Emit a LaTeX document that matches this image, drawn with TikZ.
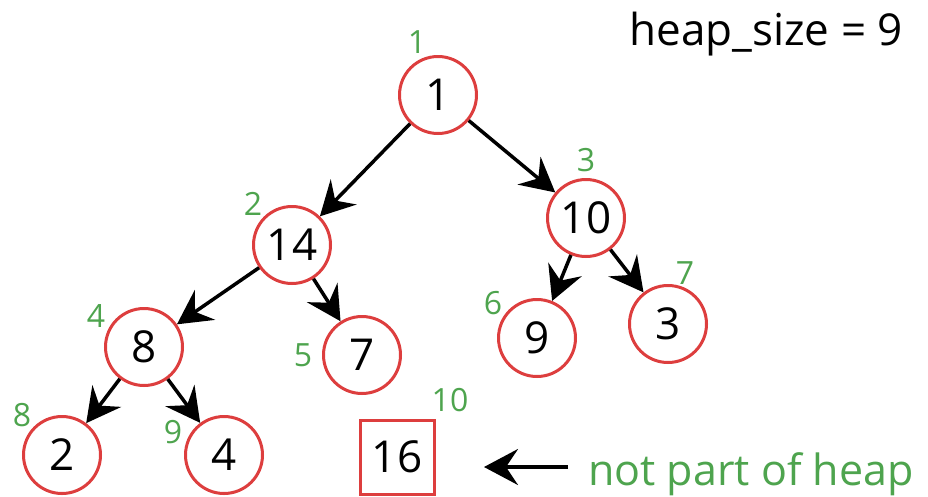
\documentclass[tikz,border=0pt]{standalone}
\usepackage{fontspec}
\setmainfont{Open Sans}
\usetikzlibrary{arrows.meta}
\definecolor{heapred}{RGB}{221,62,62}
\definecolor{idxgreen}{RGB}{78,164,78}

\begin{document}
\begin{tikzpicture}[x=1pt,y=1pt]
	 	\tikzstyle{every node}+=[inner sep=0pt]
	 	\tikzstyle{key}=[circle,draw=heapred,line width=3pt,minimum size=77pt,font=\fontsize{44}{44}\selectfont]
	 	\tikzstyle{extra}=[rectangle,draw=heapred,line width=3pt,minimum size=74pt,font=\fontsize{44}{44}\selectfont]
	 	\tikzstyle{idx}=[text=idxgreen,font=\fontsize{32}{32}\selectfont]
	 	\tikzstyle{link}=[black,line width=3.5pt,-{Stealth[length=34pt,width=36pt,inset=12pt]}]
	 	\useasboundingbox (0,0) rectangle (928,-496);
	 	\node [key] (k1) at (438,-95) {1};
	 	\node [key] (k2) at (292,-245) {14};
	 	\node [key] (k3) at (586,-218) {10};
	 	\node [key] (k4) at (144,-347) {8};
	 	\node [key] (k5) at (362,-355) {7};
	 	\node [key] (k6) at (537,-338) {9};
	 	\node [key] (k7) at (668,-324) {3};
	 	\node [key] (k8) at (62,-455) {2};
	 	\node [key] (k9) at (224,-455) {4};
	 	\node [extra] (k10) at (397,-457) {16};
	 	\draw [link] (k1) -- (k2);
	 	\draw [link] (k1) -- (k3);
	 	\draw [link] (k2) -- (k4);
	 	\draw [link] (k2) -- (k5);
	 	\draw [link] (k3) -- (k6);
	 	\draw [link] (k3) -- (k7);
	 	\draw [link] (k4) -- (k8);
	 	\draw [link] (k4) -- (k9);
	 	\node [idx] (i1) at (417,-42) {1};
	 	\node [idx] (i2) at (253,-204) {2};
	 	\node [idx] (i3) at (586,-160) {3};
	 	\node [idx] (i4) at (96,-316) {4};
	 	\node [idx] (i5) at (303,-355) {5};
	 	\node [idx] (i6) at (493,-303) {6};
	 	\node [idx] (i7) at (685,-273) {7};
	 	\node [idx] (i8) at (22,-415) {8};
	 	\node [idx] (i9) at (173,-432) {9};
	 	\node [idx] (i10) at (450,-400) {10};
	 	\node [anchor=base west,text=idxgreen,font=\fontsize{43}{43}\selectfont] (note) at (588,-485) {not part of heap};
	 	\coordinate (tail) at (568,-467);
	 	\coordinate (tip) at (484,-467);
	 	\draw [link] (tail) -- (tip);
	 	\node [anchor=base east,font=\fontsize{44}{44}\selectfont] (size) at (903,-45) {heap\_size = 9};
	 	\end{tikzpicture}
\end{document}
